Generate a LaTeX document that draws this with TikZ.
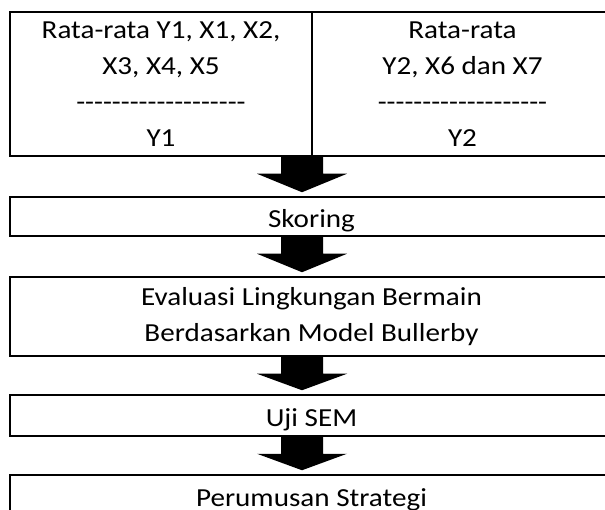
\documentclass[tikz,border=0pt]{standalone}
\usepackage{fontspec}
\setmainfont{Carlito}[FakeStretch=1.12]
\usepackage{tikz}
\usetikzlibrary{calc}
\tikzset{box/.style={draw, line width=1.5pt, align=center, inner sep=0pt,
    font=\fontsize{26}{36}\selectfont,
    execute at begin node={\rule{0pt}{27pt}}}}
\newcommand\dashrow{\foreach \d in {1,...,19}{\mbox{-}}}
% fat arrow from the bottom of one box to the top of the next
\newcommand\flowstep[2]{%
  \fill ($(#1.south -| axis)+(-21,0)$) -- ++(42,0) -- ++(0,17) -- ++(24,0)
    -- ($(#2.north -| axis)+(0,-4)$) -- ($(#1.south -| axis)+(-45,17)$)
    -- ++(24,0) -- cycle;%
}

\begin{document}
\begin{tikzpicture}[x=1pt, y=-1pt]
  \path[use as bounding box, clip] (0,0) rectangle (605,510);
  \coordinate (axis) at (302,0);
  %%%%% averages
  \node[box, minimum width=302pt, minimum height=144pt] (avgA) at (161,84)
    {Rata-rata Y1, X1, X2,\\ X3, X4, X5\\ \dashrow\\ Y1};
  \node[box, minimum width=301pt, minimum height=144pt] (avgB) at (462.5,84)
    {Rata-rata\\ Y2, X6 dan X7\\ \dashrow\\ Y2};
  %%%%% steps
  \node[box, minimum width=603pt, minimum height=39pt] (skor) at (311.5,216.5)
    {Skoring};
  \node[box, minimum width=603pt, minimum height=79pt] (eval) at (311.5,316.5)
    {Evaluasi Lingkungan Bermain\\ Berdasarkan Model Bullerby};
  \node[box, minimum width=603pt, minimum height=41pt] (sem) at (311.5,415.5)
    {Uji SEM};
  \node[box, minimum width=603pt, minimum height=41pt] (strat) at (311.5,495.5)
    {Perumusan Strategi};
  %%%%% arrows
  \flowstep{avgA}{skor}
  \flowstep{skor}{eval}
  \flowstep{eval}{sem}
  \flowstep{sem}{strat}
\end{tikzpicture}
\end{document}
